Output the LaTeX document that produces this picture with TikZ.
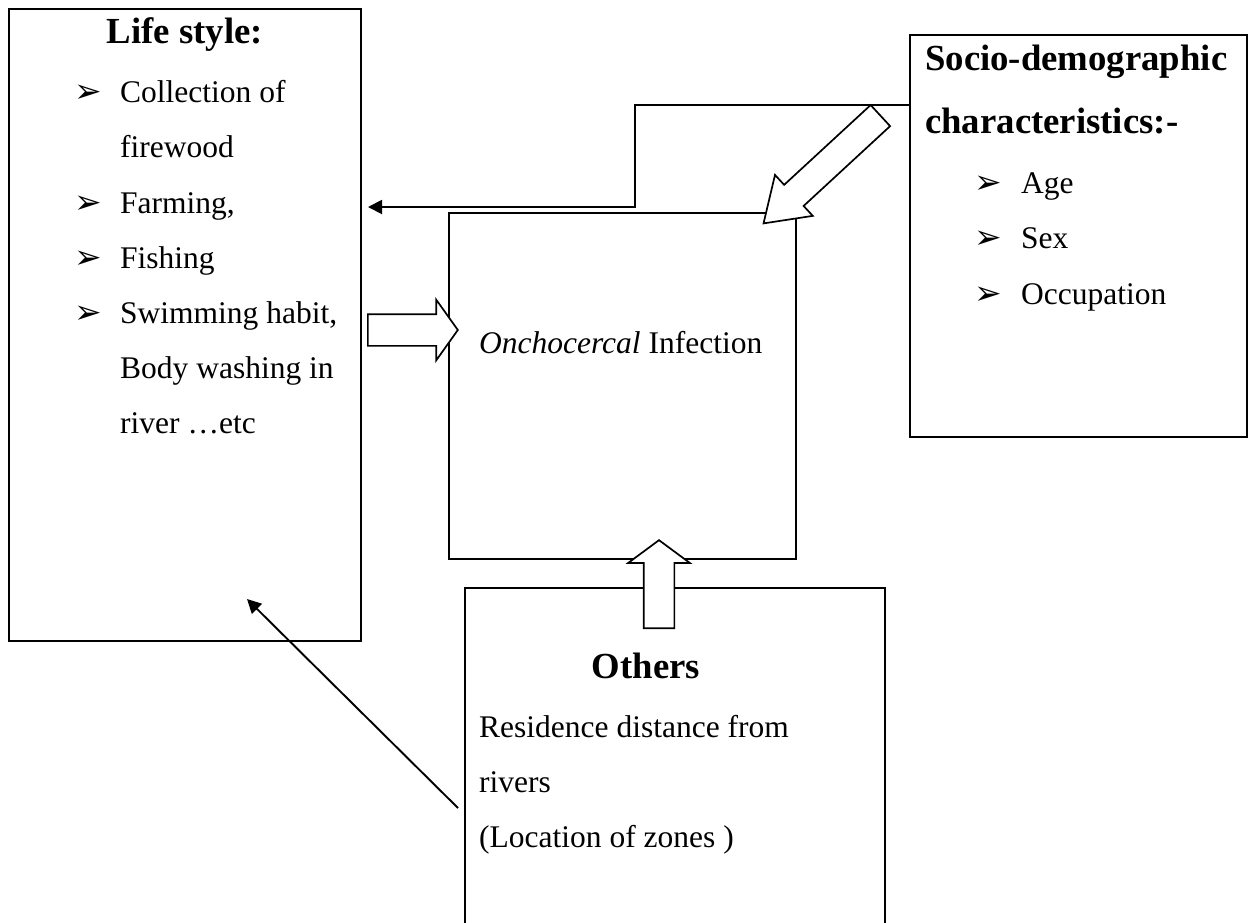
\documentclass[tikz,border=0pt]{standalone}
\usepackage{fontspec}
\setmainfont{Liberation Serif}
\newfontfamily\dingfont{DejaVu Sans}
\usetikzlibrary{shapes.arrows,arrows.meta}

\newcommand{\bul}{{\dingfont\fontsize{33}{33}\selectfont ➢}}

\tikzset{
  box/.style={draw,line width=1.7pt,inner sep=0pt},
  txt/.style={anchor=base west,inner sep=0pt,font=\fontsize{31.5}{38}\selectfont},
  head/.style={anchor=base,inner sep=0pt,font=\fontsize{36.75}{44}\selectfont\bfseries},
  headleft/.style={head,anchor=base west},
  bulnode/.style={anchor=base west,inner sep=0pt},
  blockarrow/.style={single arrow,draw,line width=1.7pt,fill=white,inner xsep=0pt,anchor=tail},
  linearrow/.style={line width=1.9pt,-{Triangle[length=14pt,width=14pt]}}
}

\begin{document}
\begin{tikzpicture}[x=1pt,y=-1pt]
	\useasboundingbox (0,0) rectangle (1254,922);
	\clip (0,0) rectangle (1254,922);

	%boxes
	\node[box,minimum width=352pt,minimum height=632pt] (life) at (185,325) {};
	\node[box,minimum width=347pt,minimum height=346pt] (infect) at (622.5,386) {};
	\node[box,minimum width=337pt,minimum height=402pt] (socio) at (1078.5,236) {};
	\node[box,minimum width=420pt,minimum height=380pt] (others) at (675,778) {};

	%life style text
	\node[head] (lifehead) at (185,43) {Life style:};
	\foreach \y in {102,213,268,323} \node[bulnode] (lb\y) at (74,\y) {\bul};
	\node[txt] (l1) at (120,102) {Collection of};
	\node[txt] (l1b) at (120,157) {firewood};
	\node[txt] (l2) at (120,213) {Farming,};
	\node[txt] (l3) at (120,268) {Fishing};
	\node[txt] (l4) at (120,323) {Swimming habit,};
	\node[txt] (l4b) at (120,378) {Body washing in};
	\node[txt] (l4c) at (120,433) {river …etc};

	%socio-demographic text
	\node[headleft] (sociohead) at (925,70) {Socio-demographic};
	\node[headleft] (sociohead2) at (925,133) {characteristics:-};
	\foreach \y in {193,248,304} \node[bulnode] (sb\y) at (974,\y) {\bul};
	\node[txt] (s1) at (1021,193) {Age};
	\node[txt] (s2) at (1021,248) {Sex};
	\node[txt] (s3) at (1021,304) {Occupation};

	%infection text
	\node[txt] (inftext) at (479,353) {\textit{Onchocercal} Infection};

	%others text
	\node[head] (othhead) at (646,678) {Others};
	\node[txt] (o1) at (479,737) {Residence distance from};
	\node[txt] (o2) at (479,792) {rivers};
	\node[txt] (o3) at (479,847) {(Location of zones )};

	%line arrows
	\coordinate (bend) at (635,105);
	\coordinate (lifeport) at (368,207);
	\coordinate (othport) at (458,808);
	\coordinate (lifetip) at (247,599);
	\draw[linearrow] (socio.west |- bend) -- (bend) |- (lifeport);
	\draw[linearrow] (othport) -- (lifetip);

	%block arrows
	\node[blockarrow,inner ysep=15pt,minimum height=90pt,single arrow head extend=14.5pt,
	  single arrow tip angle=109] (arrlife) at (367,330) {};
	\node[blockarrow,inner ysep=14.5pt,minimum height=88pt,single arrow head extend=15.5pt,
	  single arrow tip angle=107,rotate=90] (arroth) at (659,629) {};
	\node[blockarrow,inner ysep=13.5pt,minimum height=159pt,single arrow head extend=13.5pt,
	  single arrow tip angle=68,rotate=222.7] (arrsocio) at (881,115) {};
\end{tikzpicture}
\end{document}
